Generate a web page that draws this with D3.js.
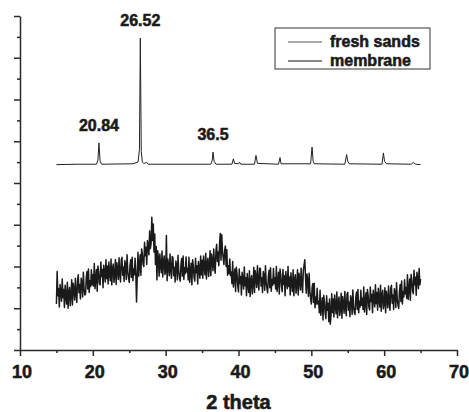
<!DOCTYPE html>
<html>
<head>
<meta charset="utf-8">
<script src="https://cdn.jsdelivr.net/npm/d3@7"></script>
<style>
  body { margin: 0; background: #fff; }
  svg text { font-family: "Liberation Sans", Arial, sans-serif; font-weight: bold; fill: #1a1a1a; stroke: #1a1a1a; stroke-width: 0.55px; }
</style>
</head>
<body>
<div id="main-vis"></div>
<script>
// x axis ticks (2 theta) and y ticks (arbitrary intensity, no labels)
const xTicks = [10, 20, 30, 40, 50, 60, 70]
const xMinorTicks = [15, 25, 35, 45, 55, 65]
const yTicks = [0, 1, 2, 3, 4, 5, 6, 7, 8]
const yMinorTicks = [0.5, 1.5, 2.5, 3.5, 4.5, 5.5, 6.5, 7.5]

const seriesNames = ['fresh sands', 'membrane']

// fresh sands: [2 theta, intensity]
const freshSands = [
    [15.0, 4.44], [18.0, 4.45], [20.5, 4.45], [20.7, 4.55], [20.84, 4.96], [21.0, 4.52], [21.2, 4.45],
    [25.5, 4.46], [26.2, 4.50], [26.4, 4.80], [26.52, 7.47], [26.65, 4.75], [26.8, 4.50], [27.0, 4.47],
    [27.4, 4.49], [27.6, 4.45], [36.2, 4.45], [36.4, 4.55], [36.5, 4.74], [36.65, 4.52], [36.9, 4.45],
    [39.1, 4.45], [39.3, 4.58], [39.45, 4.47], [40.0, 4.46], [40.15, 4.50], [40.3, 4.45],
    [42.2, 4.45], [42.4, 4.66], [42.6, 4.47], [45.5, 4.45], [45.7, 4.61], [45.85, 4.46],
    [49.9, 4.46], [50.1, 4.86], [50.25, 4.52], [50.4, 4.46], [54.6, 4.45], [54.85, 4.68], [55.0, 4.52],
    [55.2, 4.46], [59.7, 4.45], [59.9, 4.72], [60.05, 4.52], [60.3, 4.46], [63.7, 4.45], [64.0, 4.49],
    [64.3, 4.45], [65.0, 4.44]
]

// peaks that carry a label
const peakLabels = [
    { angle: 20.84, value: 4.96, text: '20.84' },
    { angle: 26.52, value: 7.47, text: '26.52' },
    { angle: 36.5, value: 4.74, text: '36.5' }
]

// membrane: noisy trace, one reading every 0.1 deg from 15 to 65 (one row per degree)
const membraneStart = 15
const membraneStep = 0.1
const membrane = [
    1.10, 1.88, 1.30, 1.47, 1.03, 1.57, 1.40, 1.17, 1.70, 1.25,
    1.45, 1.02, 1.55, 1.28, 1.10, 1.62, 1.00, 1.38, 1.50, 1.06,
    1.30, 1.68, 1.08, 1.60, 1.44, 1.20, 1.72, 1.34, 1.14, 1.66,
    1.80, 1.37, 1.57, 1.22, 1.72, 1.62, 1.27, 1.86, 1.46, 1.32,
    1.34, 1.74, 1.88, 1.46, 1.94, 1.38, 1.66, 1.52, 1.92, 1.56,
    1.80, 1.53, 2.07, 1.47, 1.71, 1.93, 1.41, 2.01, 1.87, 1.59,
    1.56, 2.11, 1.76, 1.93, 1.49, 2.03, 1.86, 1.63, 2.16, 1.71,
    2.01, 1.58, 2.11, 1.84, 1.66, 2.18, 1.56, 1.94, 2.06, 1.62,
    1.79, 2.17, 1.57, 2.09, 1.93, 1.69, 2.21, 1.83, 1.63, 2.15,
    2.22, 1.79, 1.99, 1.64, 2.14, 2.04, 1.69, 2.28, 1.88, 1.74,
    1.62, 2.02, 2.16, 1.74, 2.22, 1.66, 1.94, 1.80, 2.20, 1.84,
    1.15, 1.78, 2.34, 1.77, 2.04, 2.28, 1.79, 2.42, 2.30, 2.05,
    2.00, 2.58, 2.26, 2.46, 2.05, 2.62, 2.48, 2.28, 2.85, 2.43,
    2.55, 3.18, 2.62, 3.02, 2.35, 2.78, 2.05, 2.48, 1.68, 2.38,
    2.20, 1.77, 2.30, 2.03, 1.85, 2.37, 1.75, 2.13, 2.25, 1.81,
    1.88, 2.74, 1.66, 2.18, 2.02, 1.78, 2.30, 1.92, 1.72, 2.24,
    2.21, 1.78, 1.98, 1.63, 2.13, 2.03, 1.68, 2.27, 1.87, 1.73,
    1.65, 2.05, 2.19, 1.77, 2.25, 1.69, 1.97, 1.83, 2.23, 1.87,
    1.95, 1.68, 2.22, 1.62, 1.86, 2.08, 1.56, 2.16, 2.02, 1.74,
    1.65, 2.20, 1.85, 2.02, 1.58, 2.12, 1.95, 1.72, 2.25, 1.80,
    2.15, 1.72, 2.25, 1.98, 1.80, 2.32, 1.70, 2.08, 2.20, 1.76,
    2.00, 2.38, 1.78, 2.30, 2.14, 1.90, 2.42, 2.04, 1.84, 2.36,
    2.53, 2.12, 2.35, 2.02, 2.55, 2.79, 2.15, 2.76, 2.36, 2.20,
    2.05, 2.40, 2.49, 2.00, 2.40, 1.79, 2.02, 1.83, 2.18, 1.78,
    1.87, 1.59, 2.12, 1.51, 1.74, 1.94, 1.40, 1.98, 1.83, 1.54,
    1.39, 1.94, 1.59, 1.76, 1.32, 1.86, 1.69, 1.46, 1.99, 1.54,
    1.73, 1.30, 1.83, 1.56, 1.38, 1.90, 1.28, 1.66, 1.78, 1.34,
    1.60, 1.98, 1.38, 1.90, 1.74, 1.50, 2.02, 1.64, 1.44, 1.96,
    1.96, 1.53, 1.73, 1.38, 1.88, 1.78, 1.43, 2.02, 1.62, 1.48,
    1.37, 1.77, 1.91, 1.49, 1.97, 1.41, 1.69, 1.55, 1.95, 1.59,
    1.73, 1.46, 2.00, 1.40, 1.64, 1.86, 1.34, 1.94, 1.80, 1.52,
    1.40, 1.93, 1.57, 1.78, 1.30, 1.88, 1.66, 1.47, 2.00, 1.52,
    1.75, 1.32, 1.85, 1.58, 1.40, 1.92, 1.30, 1.68, 1.80, 1.36,
    1.54, 1.92, 1.32, 1.84, 1.68, 1.44, 1.96, 1.58, 1.38, 1.90,
    2.03, 2.16, 1.75, 1.36, 1.82, 1.68, 1.29, 1.84, 1.41, 1.24,
    1.10, 1.48, 1.59, 1.14, 1.60, 1.01, 1.27, 1.10, 1.48, 1.10,
    1.17, 0.89, 1.43, 0.83, 1.04, 1.25, 0.72, 1.31, 1.16, 0.88,
    0.75, 1.30, 0.95, 1.12, 0.68, 1.22, 0.62, 0.82, 1.35, 0.90,
    1.22, 0.79, 1.32, 1.05, 0.87, 1.39, 0.77, 1.15, 1.27, 0.83,
    0.98, 1.36, 0.76, 1.28, 1.12, 0.88, 1.40, 1.02, 0.82, 1.34,
    1.38, 0.95, 1.15, 0.80, 1.30, 1.20, 0.85, 1.44, 1.04, 0.90,
    0.85, 1.25, 1.39, 0.97, 1.45, 0.89, 1.17, 1.03, 1.43, 1.07,
    1.24, 0.97, 1.51, 0.91, 1.15, 1.37, 0.85, 1.45, 1.31, 1.03,
    0.96, 1.51, 1.16, 1.33, 0.89, 1.43, 1.26, 1.03, 1.56, 1.11,
    1.38, 0.95, 1.48, 1.21, 1.03, 1.55, 0.93, 1.31, 1.43, 0.99,
    1.11, 1.49, 0.89, 1.41, 1.25, 1.01, 1.53, 1.15, 0.95, 1.47,
    1.55, 1.12, 1.32, 0.97, 1.47, 1.37, 1.02, 1.61, 1.21, 1.07,
    1.00, 1.41, 1.57, 1.16, 1.65, 1.10, 1.40, 1.27, 1.68, 1.34,
    1.50, 1.24, 1.80, 1.21, 1.46, 1.70, 1.19, 1.81, 1.68, 1.42,
    1.35, 1.91, 1.56, 1.74, 1.31, 1.86, 1.69, 1.47, 1.95, 1.56,
    1.70
]

window.onload = setup

function setup () {
    const width = 469
    const height = 412
    const margin = { top: 16, right: 12, bottom: 62, left: 20 }

    const svg = d3.create('svg')
        .attr('width', width)
        .attr('height', height)

    const x = d3.scaleLinear()
        .domain([10, 70])
        .range([margin.left, width - margin.right])

    const y = d3.scaleLinear()
        .domain([0, 8])
        .range([height - margin.bottom, margin.top])

    const axisColor = '#2a2a2a'

    // x axis, major ticks with labels then minor ticks
    const xAxis = svg.append('g')
        .attr('transform', `translate(0,${height - margin.bottom})`)
        .call(d3.axisBottom(x).tickValues(xTicks).tickSize(6).tickPadding(9).tickSizeOuter(0))
    xAxis.append('g')
        .call(d3.axisBottom(x).tickValues(xMinorTicks).tickSize(3).tickFormat('').tickSizeOuter(0))
        .select('.domain').remove()
    xAxis.selectAll('text')
        .attr('font-size', 18)
        .attr('dx', 1.5)

    // y axis has ticks only
    const yAxis = svg.append('g')
        .attr('transform', `translate(${margin.left},0)`)
        .call(d3.axisLeft(y).tickValues(yTicks).tickSize(6).tickFormat('').tickSizeOuter(0))
    yAxis.append('g')
        .call(d3.axisLeft(y).tickValues(yMinorTicks).tickSize(3).tickFormat('').tickSizeOuter(0))
        .select('.domain').remove()

    svg.selectAll('.domain, .tick line')
        .attr('stroke', axisColor)
        .attr('stroke-width', 1.5)

    const line = d3.line()
        .x(d => x(d[0]))
        .y(d => y(d[1]))

    const membraneData = membrane.map((v, i) => [membraneStart + i * membraneStep, v])

    svg.append('path')
        .datum(membraneData)
        .attr('fill', 'none')
        .attr('stroke', '#1a1a1a')
        .attr('stroke-width', 1.5)
        .attr('stroke-linejoin', 'round')
        .attr('d', line)

    svg.append('path')
        .datum(freshSands)
        .attr('fill', 'none')
        .attr('stroke', '#222')
        .attr('stroke-width', 1)
        .attr('d', line)

    svg.selectAll('.peak-label')
        .data(peakLabels)
        .join('text')
        .attr('class', 'peak-label')
        .attr('x', d => x(d.angle))
        .attr('y', d => y(d.value) - 12)
        .attr('text-anchor', 'middle')
        .attr('font-size', 16)
        .text(d => d.text)

    // legend
    const legend = svg.append('g')
        .attr('transform', 'translate(275,28)')

    legend.append('rect')
        .attr('width', 155)
        .attr('height', 41)
        .attr('fill', 'none')
        .attr('stroke', '#333')
        .attr('stroke-width', 1)

    const rows = legend.selectAll('.row')
        .data(seriesNames)
        .join('g')
        .attr('class', 'row')
        .attr('transform', (d, i) => `translate(0,${14 + i * 19})`)

    rows.append('line')
        .attr('x1', 13)
        .attr('x2', 47)
        .attr('stroke', (d, i) => i === 0 ? '#555' : '#111')
        .attr('stroke-width', 1)

    rows.append('text')
        .attr('x', 55)
        .attr('y', 5)
        .attr('font-size', 16)
        .text(d => d)

    // x axis title
    svg.append('text')
        .attr('x', (margin.left + width - margin.right) / 2)
        .attr('y', 409)
        .attr('text-anchor', 'middle')
        .attr('font-size', 20)
        .text('2 theta')

    document.querySelector('#main-vis').appendChild(svg.node())
}
</script>
</body>
</html>
